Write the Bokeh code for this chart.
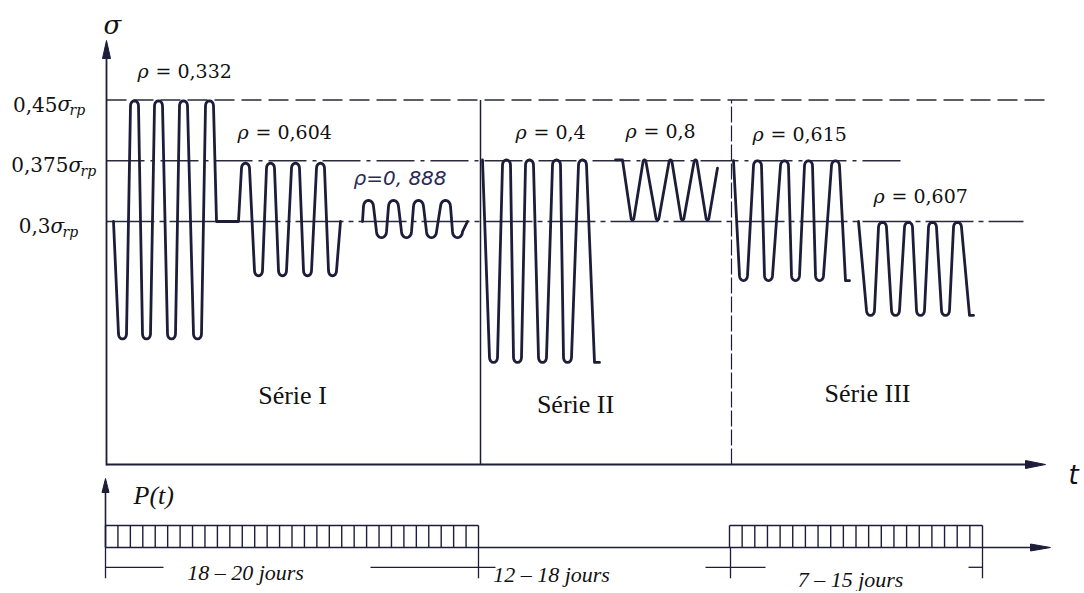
import numpy as np
from bokeh.plotting import figure
from bokeh.models import Range1d
from bokeh.core.properties import value
from bokeh.embed import file_html
from bokeh.resources import INLINE

# ---------------- data ----------------
# stress levels (in units of sigma_rp)
levels = [0.45, 0.375, 0.3]
level_labels = ["0,45", "0,375", "0,3"]
level_line_end = [1045, 906, 1023]          # time where each reference line stops

# waveform vertices: time t (arbitrary units) and sigma / sigma_rp
s1_t = [113, 122, 134, 146, 158, 171, 183, 197, 209, 216, 238, 245, 258, 270, 282, 295, 307, 320, 332, 340]
s1_s = [0.3, 0.155, 0.449, 0.155, 0.449, 0.155, 0.449, 0.155, 0.449, 0.3, 0.3,
        0.372, 0.233, 0.372, 0.233, 0.372, 0.233, 0.372, 0.233, 0.3]
s1c_t = [362, 368, 381, 393, 406, 418, 431, 445, 457, 467]
s1c_s = [0.3, 0.326, 0.28, 0.326, 0.28, 0.326, 0.28, 0.326, 0.28, 0.3]
s2a_t = [482, 493, 506, 517, 529, 542, 556, 567, 582, 594, 599]
s2a_s = [0.376, 0.126, 0.376, 0.126, 0.376, 0.126, 0.376, 0.126, 0.376, 0.126, 0.126]
s2b_t = [615, 622, 632, 644, 657, 670, 682, 695, 707, 717]
s2b_s = [0.376, 0.376, 0.302, 0.376, 0.302, 0.376, 0.302, 0.376, 0.302, 0.366]
s3a_t = [733, 743, 757, 768, 784, 795, 808, 819, 835, 845, 849]
s3a_s = [0.375, 0.227, 0.375, 0.227, 0.375, 0.227, 0.375, 0.227, 0.375, 0.227, 0.227]
s3b_t = [858, 870, 882, 895, 908, 920, 932, 945, 957, 969, 973]
s3b_s = [0.3, 0.184, 0.299, 0.184, 0.299, 0.184, 0.299, 0.184, 0.299, 0.184, 0.184]

# rho annotations
rho_values = ["0,332", "0,604", "0,4", "0,8", "0,615", "0,607"]
rho_t = [137, 237, 515, 625, 752, 873]
rho_s = [0.486, 0.411, 0.41, 0.412, 0.408, 0.331]
rho_hand = "ρ=0, 888"
rho_hand_t = 353
rho_hand_s = 0.354

# series
series_names = ["Série I", "Série II", "Série III"]
series_t = [292, 575, 867]
series_s = [0.085, 0.074, 0.088]
series_sep_t = [480, 731]

# loading P(t)
load_start = [105, 729]
load_end = [478, 982]
load_cells = [30, 20]
load_level = 1.0

dim_ticks = [105, 478, 730, 982]
dim_labels = ["18 – 20 jours", "12 – 18 jours", "7 – 15 jours"]
dim_label_t = [245, 551, 850]
dim_label_p = [-1.14, -1.23, -1.45]
dim_piece_start = [105, 370, 705, 968]
dim_piece_end = [163, 495, 765, 982]

# ---------------- layout ----------------
W, H = 1082, 591
PX_S = 810.0          # pixels per sigma_rp unit
Y0_S = 464.0          # pixel row of sigma = 0
PX_P = 22.0
Y0_P = 547.0

ink = "#1d1d3a"
txt = "#111111"

p = figure(width=W, height=H, output_backend="svg", toolbar_location=None,
           x_range=Range1d(0, W),
           y_range=Range1d((Y0_S - H) / PX_S, Y0_S / PX_S),
           x_axis_location=None, y_axis_location=None, min_border=0)
p.extra_y_ranges = {"P": Range1d((Y0_P - H) / PX_P, Y0_P / PX_P)}
p.grid.visible = False
p.outline_line_color = None
p.background_fill_color = "white"
p.border_fill_color = "white"


def rounded(ts, ss, w, h):
    """Path through the vertices with small rounded caps at every peak / trough."""
    out_t, out_s = [], []
    n = len(ts)
    hs = h / PX_S
    for i, (t, s) in enumerate(zip(ts, ss)):
        peak = 0 < i < n - 1 and s > ss[i - 1] and s > ss[i + 1]
        trough = 0 < i < n - 1 and s < ss[i - 1] and s < ss[i + 1]
        if peak or trough:
            sg = 1 if peak else -1
            for th in np.linspace(np.pi, 0, 9):
                out_t.append(t + w * np.cos(th))
                out_s.append(s - sg * hs + sg * hs * np.sin(th))
        else:
            out_t.append(t)
            out_s.append(s)
    return out_t, out_s


# reference levels
dashes = ["20 7", "38 6 4 6", "48 5 5 5"]
for lv, te, d in zip(levels, level_line_end, dashes):
    p.line([106, te], [lv, lv], line_color="#2a2a3a", line_width=1.4, line_dash=d)

# series separators
p.line([series_sep_t[0]] * 2, [0, levels[0]], line_color=ink, line_width=1.5)
p.line([series_sep_t[1]] * 2, [0, levels[0]], line_color=ink, line_width=1.2, line_dash="16 3")

# waveforms
for ts, ss, w, h in [(s1_t, s1_s, 4, 5), (s1c_t, s1c_s, 5, 6), (s2a_t, s2a_s, 4, 5),
                     (s2b_t, s2b_s, 1.5, 2), (s3a_t, s3a_s, 4, 5), (s3b_t, s3b_s, 4, 5)]:
    xt, xs = rounded(ts, ss, w, h)
    p.line(xt, xs, line_color=ink, line_width=2.8, line_join="round", line_cap="round")

# axes (sigma / t)
y_tip = (Y0_S - 40) / PX_S
p.line([106, 106], [-1 / PX_S, y_tip - 16 / PX_S], line_color=ink, line_width=1.8)
p.patches([[102, 106, 110]], [[y_tip - 18 / PX_S, y_tip, y_tip - 18 / PX_S]], fill_color=ink, line_color=ink)
p.line([106, 1028], [0, 0], line_color=ink, line_width=1.8)
p.patches([[1025, 1045, 1025]], [[4 / PX_S, 0, -4 / PX_S]], fill_color=ink, line_color=ink)

# axis labels
p.text(x=[103], y=[(Y0_S - 24) / PX_S], text=["σ"], text_font=value("DejaVu Serif"),
       text_font_style="italic", text_font_size="26px", text_color=txt,
       text_align="left", text_baseline="middle")
p.text(x=[1068], y=[-10 / PX_S], text=["t"], text_font=value("DejaVu Sans"),
       text_font_style="italic", text_font_size="26px", text_color=txt,
       text_align="left", text_baseline="middle")

# level labels: number + italic sigma + subscript rp
anchor = [57, 68, 50]
for lv, lab, a in zip(levels, level_labels, anchor):
    yc = lv - 4 / PX_S
    p.text(x=[a], y=[yc], text=[lab], text_font=value("DejaVu Serif"), text_font_size="20px",
           text_color=txt, text_align="right", text_baseline="middle")
    p.text(x=[a], y=[yc], text=["σ"], text_font=value("DejaVu Serif"), text_font_style="italic",
           text_font_size="20px", text_color=txt, text_align="left", text_baseline="middle")
    p.text(x=[a + 12], y=[yc - 6 / PX_S], text=["rp"], text_font=value("DejaVu Serif"),
           text_font_style="italic", text_font_size="14px", text_color=txt,
           text_align="left", text_baseline="middle")

# rho labels
p.text(x=rho_t, y=rho_s, text=["ρ"] * len(rho_t), text_font=value("DejaVu Serif"),
       text_font_style="italic", text_font_size="19px", text_color=txt,
       text_align="left", text_baseline="middle")
p.text(x=[t + 18 for t in rho_t], y=rho_s, text=["= " + v for v in rho_values],
       text_font=value("DejaVu Serif"), text_font_size="19px", text_color=txt,
       text_align="left", text_baseline="middle")
p.text(x=[rho_hand_t], y=[rho_hand_s], text=[rho_hand], text_font=value("DejaVu Sans"),
       text_font_style="italic", text_font_size="20px", text_color="#2a2a55",
       text_align="left", text_baseline="middle")

# series labels
p.text(x=series_t, y=series_s, text=series_names, text_font=value("Liberation Serif"),
       text_font_size="26px", text_color=txt, text_align="center", text_baseline="middle")

# ---------------- lower panel P(t) ----------------
pt_tip = (Y0_P - 478) / PX_P
p.line([105, 105], [0, pt_tip - 12 / PX_P], line_color=ink, line_width=1.6, y_range_name="P")
p.patches([[101.5, 105, 108.5]], [[pt_tip - 14 / PX_P, pt_tip, pt_tip - 14 / PX_P]],
          fill_color=ink, line_color=ink, y_range_name="P")
p.line([105, 1033], [0, 0], line_color=ink, line_width=1.6, y_range_name="P")
p.patches([[1030, 1050, 1030]], [[3.5 / PX_P, 0, -3.5 / PX_P]], fill_color=ink, line_color=ink,
          y_range_name="P")
p.text(x=[133], y=[(Y0_P - 495) / PX_P], text=["P(t)"], text_font=value("Liberation Serif"),
       text_font_style="italic", text_font_size="26px", text_color=txt,
       text_align="left", text_baseline="middle", y_range_name="P")

for a, b, n in zip(load_start, load_end, load_cells):
    xs = np.linspace(a, b, n + 1)
    p.segment(x0=xs, y0=[0] * len(xs), x1=xs, y1=[load_level] * len(xs),
              line_color=ink, line_width=1.4, y_range_name="P")
    p.segment(x0=[a], y0=[load_level], x1=[b], y1=[load_level], line_color=ink,
              line_width=1.6, y_range_name="P")

# dimension lines
p.segment(x0=dim_ticks, y0=[0] * 4, x1=dim_ticks, y1=[-1.4] * 4, line_color=ink,
          line_width=1.3, y_range_name="P")
p.segment(x0=dim_piece_start, y0=[-0.9] * 4, x1=dim_piece_end, y1=[-0.9] * 4,
          line_color=ink, line_width=1.3, y_range_name="P")
p.text(x=dim_label_t, y=dim_label_p, text=dim_labels, text_font=value("Liberation Serif"),
       text_font_style="italic", text_font_size="22px", text_color=txt,
       text_align="center", text_baseline="middle", y_range_name="P")

open("out.html", "w").write(file_html(p, INLINE))
